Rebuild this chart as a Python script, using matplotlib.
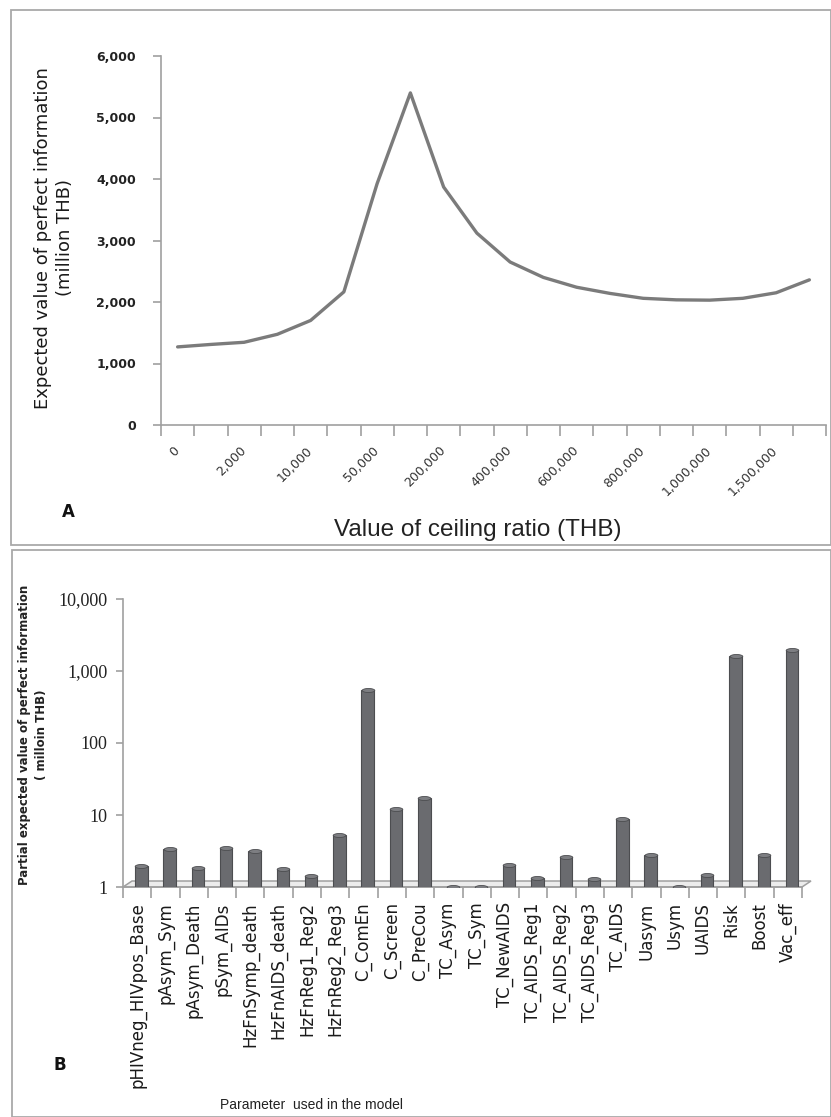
import matplotlib
matplotlib.use('Agg')
import matplotlib.pyplot as plt
import numpy as np
from matplotlib.patches import Rectangle, Polygon
from matplotlib.path import Path

plt.rcParams['font.family'] = ['DejaVu Sans']

W, H = 831, 1117


def fx(x):
    return x / W


def fy(y):
    return 1 - y / H


# panel A : EVPI by ceiling ratio
ceiling = ['0', '1,000', '2,000', '5,000', '10,000', '20,000', '50,000', '100,000',
           '200,000', '300,000', '400,000', '500,000', '600,000', '700,000', '800,000',
           '900,000', '1,000,000', '1,200,000', '1,500,000', '2,000,000']
evpi = [1270, 1310, 1345, 1475, 1700, 2165, 3925, 5400, 3870, 3120,
        2650, 2400, 2240, 2140, 2060, 2035, 2030, 2060, 2150, 2360]

# panel B : partial EVPI per parameter
params = ['pHIVneg_HIVpos_Base', 'pAsym_Sym', 'pAsym_Death', 'pSym_AIDs',
          'HzFnSymp_death', 'HzFnAIDS_death', 'HzFnReg1_Reg2', 'HzFnReg2_Reg3',
          'C_ComEn', 'C_Screen', 'C_PreCou', 'TC_Asym', 'TC_Sym', 'TC_NewAIDS',
          'TC_AIDS_Reg1', 'TC_AIDS_Reg2', 'TC_AIDS_Reg3', 'TC_AIDS', 'Uasym',
          'Usym', 'UAIDS', 'Risk', 'Boost', 'Vac_eff']
evppi = [1.96, 3.35, 1.82, 3.45, 3.2, 1.78, 1.41, 5.2, 547, 12.3, 17.2, 1.0, 1.0,
         2.05, 1.32, 2.62, 1.31, 8.9, 2.82, 1.0, 1.47, 1590, 2.82, 1970]

fig = plt.figure(figsize=(8.31, 11.17), dpi=100)

frame = '#a9a9a9'
fig.patches.append(Rectangle((fx(11), fy(545)), (W - 11) / W, (545 - 10) / H,
                             transform=fig.transFigure, fill=False, ec=frame, lw=1.3))
fig.patches.append(Rectangle((fx(12), fy(1117)), (W - 12) / W, (1117 - 550) / H,
                             transform=fig.transFigure, fill=False, ec=frame, lw=1.3))

axis_col = '#a0a0a0'
sans = 'DejaVu Sans'
narrow = 'Liberation Sans'

# ---------- panel A
ax1 = fig.add_axes([fx(161), fy(425), (826 - 161) / W, (425 - 56) / H])
xa = np.arange(len(evpi))
ax1.plot(xa, evpi, color='#7b7b7b', lw=2.4, solid_capstyle='round')
ax1.set_xlim(-0.5, len(evpi) - 0.5)
ax1.set_ylim(0, 6000)
ax1.set_yticks(np.arange(0, 6001, 1000))
for s in ['top', 'right']:
    ax1.spines[s].set_visible(False)
for s in ['left', 'bottom']:
    ax1.spines[s].set_color(axis_col)
    ax1.spines[s].set_linewidth(1.2)
ax1.tick_params(axis='y', length=6, color=axis_col, width=1.2, pad=12)
ax1.set_yticklabels(['{:,.0f}'.format(v) for v in np.arange(0, 6001, 1000)],
                    family=sans, fontsize=9, fontweight='bold', color='#222222')
ax1.set_xticks(xa[::2])
ax1.set_xticklabels(ceiling[::2], rotation=45, ha='right', va='center',
                    rotation_mode='anchor', fontsize=9, family=sans, color='#333333')
ax1.set_xticks(np.arange(-0.5, len(evpi), 1), minor=True)
ax1.tick_params(axis='x', which='major', length=0, pad=17)
ax1.tick_params(axis='x', which='minor', length=8, color=axis_col, width=1.2)

fig.text(fx(54), fy(238), 'Expected value of perfect information\n(million THB)',
         rotation=90, ha='center', va='center', fontsize=13, family=sans,
         color='#1a1a1a', multialignment='center', linespacing=1.25)
fig.text(fx(478), fy(530), 'Value of ceiling ratio (THB)', ha='center', va='center',
         fontsize=17.5, family=narrow, color='#222222')
fig.text(fx(68), fy(512), 'A', ha='center', va='center', fontsize=12, family=sans,
         fontweight='bold', color='#111111')

# ---------- panel B
ax2 = fig.add_axes([fx(123), fy(887), (802 - 123) / W, (887 - 599) / H])
xb = np.arange(len(evppi))
ax2.set_yscale('log')
ax2.set_xlim(-0.5, len(evppi) - 0.5)
ax2.set_ylim(1, 10000)

dx, dy = 9 / 679, 6 / 288
floor = Polygon([(0, 0), (1, 0), (1 + dx, dy), (dx, dy)], closed=True,
                transform=ax2.transAxes, fc='#ececec', ec=axis_col, lw=1.1,
                clip_on=False, zorder=1)
ax2.add_patch(floor)

vals = np.array(evppi)
bx = xb + 0.15
ax2.bar(bx, vals - 1, bottom=1, width=0.44, color='#6a6b6f', ec='#4c4d50',
        lw=0.8, zorder=3)
t = np.linspace(0, 2 * np.pi, 60)
ell = Path(np.column_stack([np.cos(t), 0.32 * np.sin(t)]), closed=True)
ax2.scatter(bx, vals, marker=ell, s=82, c='#7d7e82', edgecolors='#4c4d50',
            linewidths=0.6, zorder=4)

for s in ['top', 'right']:
    ax2.spines[s].set_visible(False)
for s in ['left', 'bottom']:
    ax2.spines[s].set_color(axis_col)
    ax2.spines[s].set_linewidth(1.2)
yt = [1, 10, 100, 1000, 10000]
ax2.set_yticks(yt)
ax2.yaxis.set_minor_locator(matplotlib.ticker.NullLocator())
ax2.set_yticklabels(['{:,}'.format(v) for v in yt], family='Liberation Serif',
                    fontsize=13, color='#222222')
ax2.tick_params(axis='y', length=5, color=axis_col, width=1.2, pad=6)
ax2.set_xticks(xb)
ax2.set_xticklabels(params, rotation=90, ha='center', va='top', fontsize=12,
                    family=sans, color='#1a1a1a')
ax2.set_xticks(np.arange(-0.5, len(evppi), 1), minor=True)
ax2.tick_params(axis='x', which='major', length=0, pad=11)
ax2.tick_params(axis='x', which='minor', length=8, color=axis_col, width=1.2)

fig.text(fx(33), fy(735), 'Partial expected value of perfect information\n( milloin THB)',
         rotation=90, ha='center', va='center', fontsize=8.5, fontweight='bold',
         family=sans, color='#222222', multialignment='center', linespacing=1.3)
fig.text(fx(312), fy(1105), 'Parameter  used in the model', ha='center', va='center',
         fontsize=10, family=narrow, color='#222222')
fig.text(fx(60), fy(1065), 'B', ha='center', va='center', fontsize=12, family=sans,
         fontweight='bold', color='#111111')

fig.savefig('out.png', dpi=100)
